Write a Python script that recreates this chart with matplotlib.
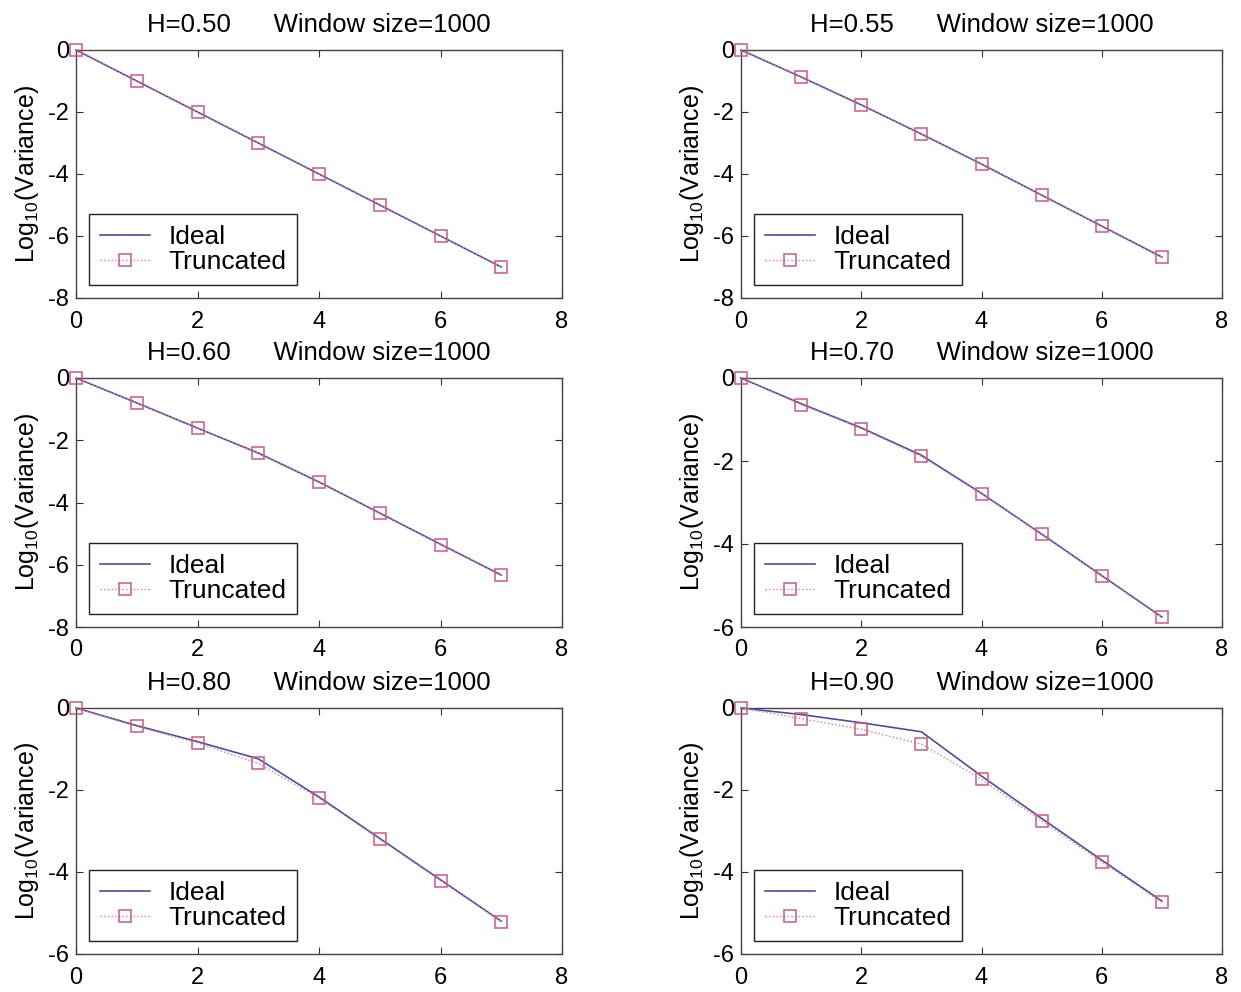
import matplotlib
matplotlib.use("Agg")
import matplotlib.pyplot as plt

plt.rcParams['font.family'] = ['Liberation Sans', 'DejaVu Sans']
plt.rcParams['axes.unicode_minus'] = False
plt.rcParams['mathtext.fontset'] = 'custom'
plt.rcParams['mathtext.rm'] = 'Liberation Sans'
plt.rcParams['mathtext.it'] = 'Liberation Sans'

x = [0, 1, 2, 3, 4, 5, 6, 7]
H_values = ["0.50", "0.55", "0.60", "0.70", "0.80", "0.90"]
window_size = 1000

ideal_050 = [0, -1.0, -2.0, -3.0, -4.0, -5.0, -6.0, -7.0]
trunc_050 = [0, -1.0, -2.0, -3.0, -4.0, -5.0, -6.0, -7.0]
ideal_055 = [0, -0.87, -1.77, -2.71, -3.68, -4.68, -5.68, -6.68]
trunc_055 = [0, -0.87, -1.77, -2.71, -3.68, -4.68, -5.68, -6.68]
ideal_060 = [0, -0.80, -1.61, -2.41, -3.34, -4.34, -5.34, -6.33]
trunc_060 = [0, -0.80, -1.61, -2.42, -3.35, -4.35, -5.35, -6.34]
ideal_070 = [0, -0.62, -1.20, -1.86, -2.78, -3.76, -4.76, -5.76]
trunc_070 = [0, -0.64, -1.22, -1.89, -2.79, -3.77, -4.77, -5.77]
ideal_080 = [0, -0.43, -0.82, -1.24, -2.17, -3.18, -4.19, -5.20]
trunc_080 = [0, -0.45, -0.85, -1.35, -2.20, -3.20, -4.21, -5.21]
ideal_090 = [0, -0.16, -0.36, -0.58, -1.66, -2.69, -3.71, -4.71]
trunc_090 = [0, -0.26, -0.52, -0.88, -1.74, -2.75, -3.75, -4.74]

ideal_all = [ideal_050, ideal_055, ideal_060, ideal_070, ideal_080, ideal_090]
trunc_all = [trunc_050, trunc_055, trunc_060, trunc_070, trunc_080, trunc_090]
ymins = [-8, -8, -8, -6, -6, -6]
xticks = [0, 2, 4, 6, 8]

fig = plt.figure(figsize=(12.41, 9.92), dpi=100)

col_x = [76 / 1241, 741 / 1241]
col_w = [(562 - 76) / 1241, (1222 - 741) / 1241]
rows_px = [(50, 298), (378, 627), (708, 954)]

for i in range(6):
    r, c = divmod(i, 2)
    top, bot = rows_px[r]
    ax = fig.add_axes([col_x[c], 1 - bot / 992, col_w[c], (bot - top) / 992])
    ax.plot(x, ideal_all[i], color='#4c4ca0', lw=1.2, label='Ideal',
            clip_on=False, zorder=3)
    ax.plot(x, trunc_all[i], color='#e07898', lw=1.0, ls=':', marker='s',
            markersize=9, markerfacecolor='none', markeredgecolor='#cc5a7e',
            markeredgewidth=1.1, label='Truncated', clip_on=False, zorder=4)
    ax.set_xlim(0, 8)
    ax.set_ylim(ymins[i], 0)
    ax.set_xticks(xticks)
    ax.set_yticks(list(range(0, ymins[i] - 1, -2)))
    ax.tick_params(direction='in', top=True, right=True, length=5,
                   labelsize=17, color='#333333')
    ax.tick_params(axis='x', pad=9)
    ax.tick_params(axis='y', pad=5)
    for s in ax.spines.values():
        s.set_color('#444444')
        s.set_linewidth(1.0)
    ax.set_title(f"H={H_values[i]}      Window size={window_size}",
                 fontsize=18.5, pad=13)
    ax.set_ylabel("Log$_{10}$(Variance)", fontsize=18, labelpad=5)
    leg = ax.legend(loc='lower left', fontsize=19, fancybox=False,
                    framealpha=1, edgecolor='#222222', borderaxespad=0.5,
                    handlelength=1.9, handletextpad=0.7, labelspacing=0.05,
                    borderpad=0.4)
    leg.get_frame().set_linewidth(1.0)

fig.savefig("out.png", dpi=100)
